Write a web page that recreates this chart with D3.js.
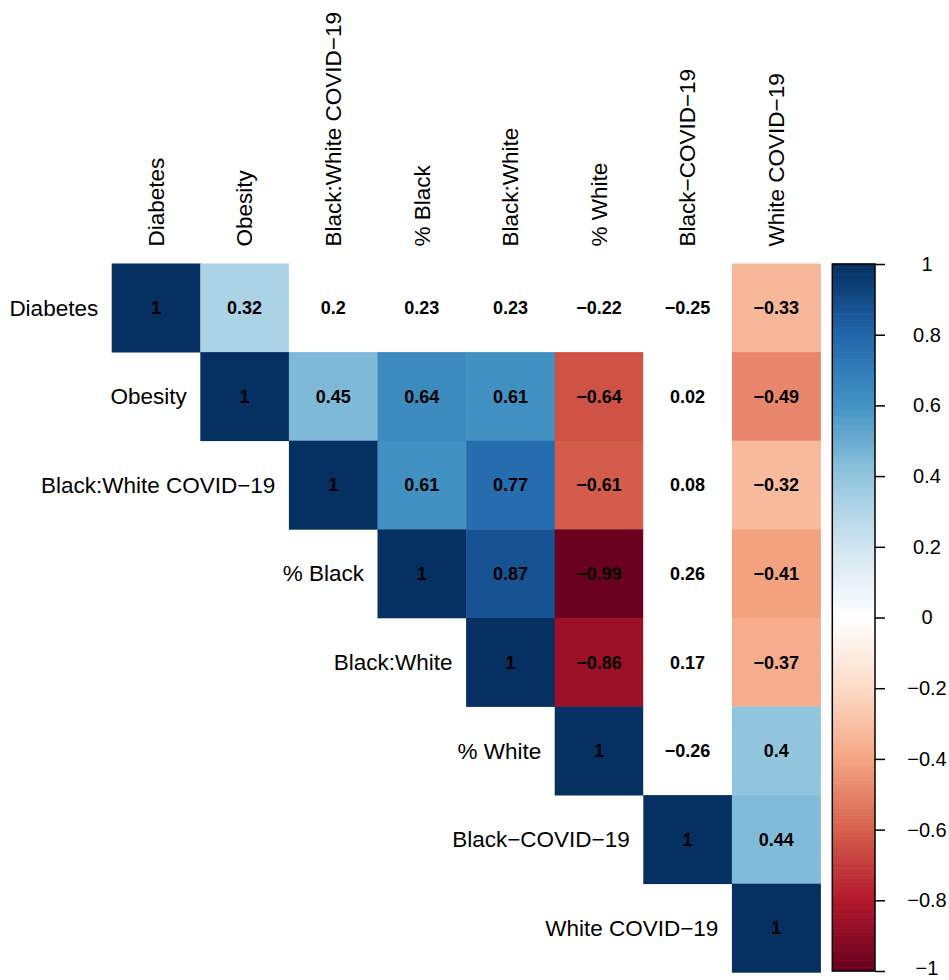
<!DOCTYPE html>
<html>
<head>
<meta charset="utf-8">
<script src="https://cdn.jsdelivr.net/npm/d3@7"></script>
<style>
  html, body { margin: 0; padding: 0; background: #fff; }
  svg { display: block; }
  text { font-family: "Liberation Sans", Arial, Helvetica, sans-serif; }
</style>
</head>
<body>
<script>
// Variables, in display order
const variables = ["Diabetes", "Obesity", "Black:White COVID\u221219", "% Black",
                   "Black:White", "% White", "Black\u2212COVID\u221219", "White COVID\u221219"];

// Upper-triangle correlations, one array per row (starting at the diagonal)
const corrRows = [
  [1, 0.32, 0.2, 0.23, 0.23, -0.22, -0.25, -0.33],
  [1, 0.45, 0.64, 0.61, -0.64, 0.02, -0.49],
  [1, 0.61, 0.77, -0.61, 0.08, -0.32],
  [1, 0.87, -0.99, 0.26, -0.41],
  [1, -0.86, 0.17, -0.37],
  [1, -0.26, 0.4],
  [1, 0.44],
  [1]
];

// Pairs (row, col) whose correlation is not significant: drawn blank, value only
const blankPairs = [
  [0, 2], [0, 3], [0, 4], [0, 5], [0, 6],
  [1, 6], [2, 6], [3, 6], [4, 6], [5, 6]
];

// Colour legend ticks
const legendTicks = [1, 0.8, 0.6, 0.4, 0.2, 0, -0.2, -0.4, -0.6, -0.8, -1];

// RdBu diverging palette stops from -1 to 1
const paletteStops = ["#67001F", "#B2182B", "#D6604D", "#F4A582", "#FDDBC7", "#FFFFFF",
                      "#D1E5F0", "#92C5DE", "#4393C3", "#2166AC", "#053061"];

const W = 949, H = 980;
const svg = d3.select("body").append("svg").attr("width", W).attr("height", H);

const grid = { x0: 111.7, x1: 820.5, y0: 263.5, y1: 972.3 };

const x = d3.scaleBand().domain(d3.range(variables.length)).range([grid.x0, grid.x1]);
const y = d3.scaleBand().domain(d3.range(variables.length)).range([grid.y0, grid.y1]);

const color = d3.scaleLinear()
  .domain(d3.range(paletteStops.length).map(i => -1 + 2 * i / (paletteStops.length - 1)))
  .range(paletteStops)
  .interpolate(d3.interpolateRgb)
  .clamp(true);

const isBlank = new Set(blankPairs.map(([r, c]) => r + "-" + c));

const cells = [];
corrRows.forEach((row, r) => {
  row.forEach((v, k) => {
    const c = r + k;
    cells.push({ r, c, v, blank: isBlank.has(r + "-" + c) });
  });
});

// Cells
const gCells = svg.append("g");
gCells.selectAll("rect")
  .data(cells)
  .join("rect")
  .attr("x", d => x(d.c))
  .attr("y", d => y(d.r))
  .attr("width", x.bandwidth() + 0.4)
  .attr("height", y.bandwidth() + 0.4)
  .attr("fill", d => d.blank ? "#FFFFFF" : color(d.v));

// Values
gCells.selectAll("text")
  .data(cells)
  .join("text")
  .attr("x", d => x(d.c) + x.bandwidth() / 2)
  .attr("y", d => y(d.r) + y.bandwidth() / 2)
  .attr("dy", "0.36em")
  .attr("text-anchor", "middle")
  .attr("font-size", 18)
  .attr("font-weight", "bold")
  .attr("fill", "#000")
  .text(d => d3.format("~r")(d.v).replace("-", "\u2212"));

// Row labels, right-aligned next to the diagonal
svg.append("g").selectAll("text")
  .data(variables)
  .join("text")
  .attr("x", (d, i) => x(i) - 13.5)
  .attr("y", (d, i) => y(i) + y.bandwidth() / 2)
  .attr("dy", "0.35em")
  .attr("text-anchor", "end")
  .attr("font-size", 22.5)
  .text(d => d);

// Column labels, rotated above the grid
svg.append("g").selectAll("text")
  .data(variables)
  .join("text")
  .attr("transform", (d, i) => `translate(${x(i) + x.bandwidth() / 2},${grid.y0 - 17}) rotate(-90)`)
  .attr("dy", "0.35em")
  .attr("text-anchor", "start")
  .attr("font-size", 22.5)
  .text(d => d);

// Colour legend
const leg = { x0: 832.3, x1: 875, y0: 264, y1: 971 };
const ly = d3.scaleLinear().domain([-1, 1]).range([leg.y1, leg.y0]);
const nBands = 200;
const bandVals = d3.range(nBands).map(i => -1 + (i + 0.5) * 2 / nBands);
const bh = (leg.y1 - leg.y0) / nBands;
svg.append("g").selectAll("rect")
  .data(bandVals)
  .join("rect")
  .attr("x", leg.x0)
  .attr("width", leg.x1 - leg.x0)
  .attr("y", d => ly(d) - bh / 2 - 0.3)
  .attr("height", bh + 0.6)
  .attr("fill", d => color(d));
svg.append("rect")
  .attr("x", leg.x0).attr("y", leg.y0)
  .attr("width", leg.x1 - leg.x0).attr("height", leg.y1 - leg.y0)
  .attr("fill", "none").attr("stroke", "#000").attr("stroke-width", 1.5);

const axis = d3.axisRight(ly)
  .tickValues(legendTicks)
  .tickSize(10)
  .tickPadding(0)
  .tickFormat(d3.format("~g"));
const gAxis = svg.append("g").attr("transform", `translate(${leg.x1},0)`).call(axis);
gAxis.select(".domain").remove();
gAxis.selectAll(".tick line").attr("stroke", "#000").attr("stroke-width", 1.5);
gAxis.selectAll(".tick text")
  .attr("x", 52)
  .attr("text-anchor", "middle")
  .attr("font-size", 20)
  .attr("font-family", "'Liberation Sans', Arial, sans-serif")
  .attr("fill", "#000")
  // keep the bottom label inside the page
  .attr("y", d => d === -1 ? -3 : 0);
</script>
</body>
</html>
